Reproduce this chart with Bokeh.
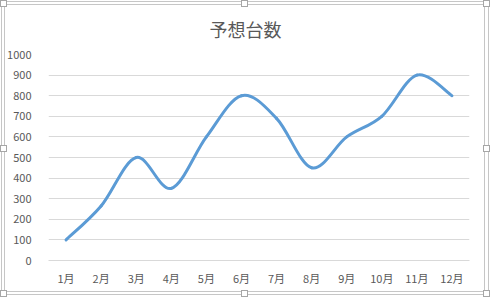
from bokeh.plotting import figure
from bokeh.models import Range1d, FixedTicker
from bokeh.embed import file_html
from bokeh.resources import INLINE

title_text = "予想台数"
months = ["1月", "2月", "3月", "4月", "5月", "6月", "7月", "8月", "9月", "10月", "11月", "12月"]
units = [100, 265, 500, 350, 600, 800, 690, 450, 600, 700, 900, 800]
y_ticks = [0, 100, 200, 300, 400, 500, 600, 700, 800, 900, 1000]

FONT = "Noto Sans CJK JP"
TXT = "#595959"
GRID = "#D9D9D9"
BLUE = "#5B9BD5"

xs = list(range(len(months)))

# Excel-like smoothed line: cubic Bezier segments (Catmull-Rom, 1/6 tangents)
n = len(xs)
x0, y0, x1, y1, cx0, cy0, cx1, cy1 = [], [], [], [], [], [], [], []
for i in range(n - 1):
    a = max(i - 1, 0)
    b = min(i + 2, n - 1)
    x0.append(xs[i]); y0.append(units[i])
    x1.append(xs[i + 1]); y1.append(units[i + 1])
    cx0.append(xs[i] + (xs[i + 1] - xs[a]) / 6)
    cy0.append(units[i] + (units[i + 1] - units[a]) / 6)
    cx1.append(xs[i + 1] - (xs[b] - xs[i]) / 6)
    cy1.append(units[i + 1] - (units[b] - units[i]) / 6)

p = figure(width=490, height=298, output_backend="svg", toolbar_location=None,
           x_range=Range1d(-0.5, len(months) - 0.5), y_range=Range1d(0, 1000),
           min_border_left=48, min_border_right=21, min_border_top=54, min_border_bottom=38)
p.outline_line_color = None
p.background_fill_color = "white"
p.border_fill_color = None

p.title.text = title_text
p.title.align = "left"
p.title.offset = 161
p.title.text_font = FONT
p.title.text_font_size = "18px"
p.title.text_font_style = "normal"
p.title.text_color = TXT
p.title.text_line_height = 0.7
p.title.standoff = 25

p.xaxis.ticker = FixedTicker(ticks=xs)
p.xaxis.major_label_overrides = {i: m for i, m in zip(xs, months)}
p.yaxis.ticker = FixedTicker(ticks=y_ticks)
for ax in (p.xaxis, p.yaxis):
    ax.major_tick_line_color = None
    ax.minor_tick_line_color = None
    ax.major_label_text_font = FONT
    ax.major_label_text_font_size = "11px"
    ax.major_label_text_color = TXT
p.yaxis.axis_line_color = None
p.yaxis.major_label_standoff = 11
p.xaxis.axis_line_color = GRID
p.xaxis.major_label_standoff = 3

p.xgrid.grid_line_color = None
p.ygrid.grid_line_color = GRID
p.ygrid.grid_line_width = 1

p.bezier(x0=x0, y0=y0, x1=x1, y1=y1, cx0=cx0, cy0=cy0, cx1=cx1, cy1=cy1,
         line_color=BLUE, line_width=3, line_cap="round")

# Chart-area selection frame (double line + handles), painted as CSS backgrounds
LINE = "#C6C6C6"
HANDLE = "#A6A6A6"
rects = []  # (x, y, w, h, color), first = top-most layer
handles = [(0, 0), (241, 0), (483, 0), (0, 145), (483, 145), (0, 290), (241, 290), (483, 290)]
for hx, hy in handles:
    rects.append((hx + 1, hy + 1, 5, 5, "white"))
for hx, hy in handles:
    rects.append((hx, hy, 7, 7, HANDLE))
for (l, t, r, b) in [(1, 1, 488, 294), (4, 4, 484, 291)]:
    rects.append((l, t, r - l + 1, 1, LINE))
    rects.append((l, b, r - l + 1, 1, LINE))
    rects.append((l, t, 1, b - t + 1, LINE))
    rects.append((r, t, 1, b - t + 1, LINE))
p.styles = {
    "background-color": "white",
    "background-repeat": "no-repeat",
    "background-image": ", ".join(f"linear-gradient({c}, {c})" for _, _, _, _, c in rects),
    "background-size": ", ".join(f"{w}px {h}px" for _, _, w, h, _ in rects),
    "background-position": ", ".join(f"{x}px {y}px" for x, y, _, _, _ in rects),
}

open("out.html", "w").write(file_html(p, INLINE))
